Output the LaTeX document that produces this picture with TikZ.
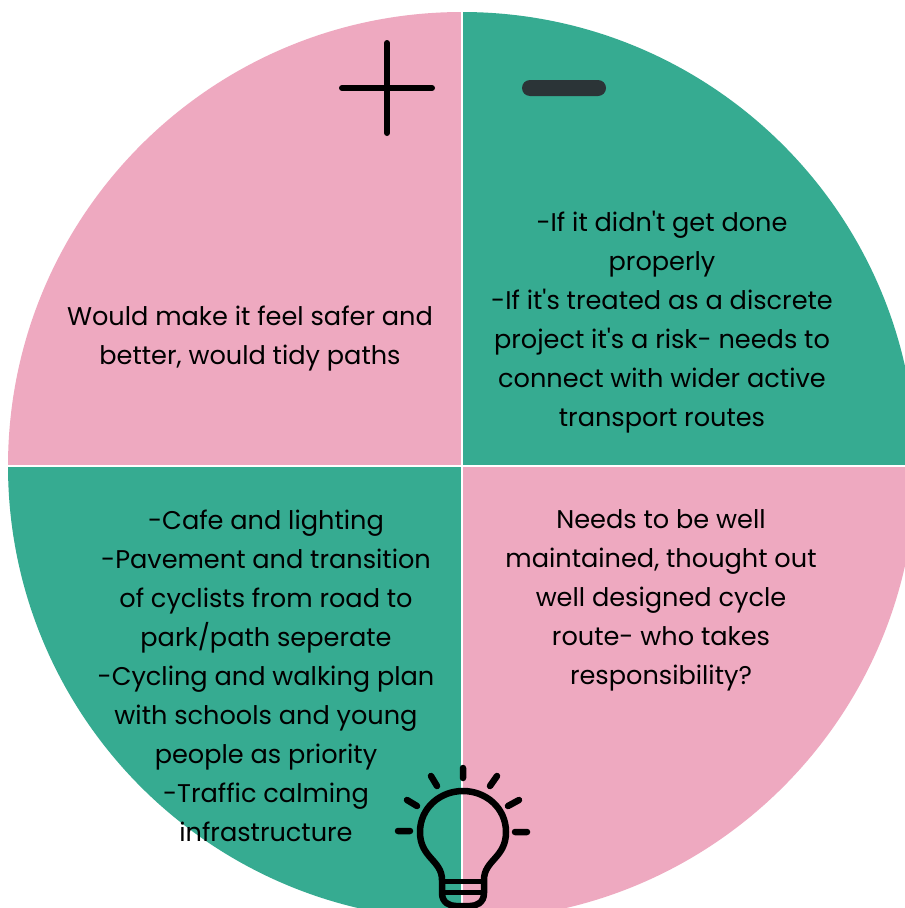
\documentclass[tikz,border=0pt]{standalone}
\usepackage{fontspec}
\setmainfont[Ligatures=TeXOff]{Poppins}
\definecolor{pinkq}{HTML}{EEA9C0}
\definecolor{greenq}{HTML}{36AB91}
\definecolor{dashc}{HTML}{2B3437}
\tikzset{
 lab/.style={align=center,font=\fontsize{25.6pt}{39pt}\selectfont,text=black,inner sep=0pt},
 bulb/.style={draw=black,line width=6.5pt,line cap=round,line join=round},
}
\begin{document}
\begin{tikzpicture}[x=1pt,y=-1pt]
\useasboundingbox (0,0) rectangle (905,908);
\fill[white] (0,0) rectangle (905,908);
\begin{scope}
\clip (0,0) rectangle (905,908);
\fill[pinkq] (462,466) -- (8,466) arc[start angle=180,end angle=90,x radius=454,y radius=-454] -- cycle;
\fill[greenq] (462,466) -- (462,12) arc[start angle=90,end angle=0,x radius=454,y radius=-454] -- cycle;
\fill[greenq] (462,466) -- (8,466) arc[start angle=180,end angle=270,x radius=454,y radius=-454] -- cycle;
\fill[pinkq] (462,466) -- (916,466) arc[start angle=0,end angle=-90,x radius=454,y radius=-454] -- cycle;
\draw[white,line width=1.5pt] (462,12) -- (462,920) (8,466) -- (916,466);
\end{scope}
\draw[black,line width=6pt,line cap=round] (342,88) -- (432,88) (387,43) -- (387,133);
\fill[dashc,rounded corners=8pt] (522,80) rectangle (606,96);
\node[lab] (a) at (250,339) {Would make it feel safer and\\better, would tidy paths};
\node[lab] (b) at (662,322) {-If it didn't get done\\properly\\-If it's treated as a discrete\\project it's a risk- needs to\\connect with wider active\\transport routes};
\node[lab] (c) at (266,675.5) {-Cafe and lighting\\-Pavement and transition\\of cyclists from road to\\park/path seperate\\-Cycling and walking plan\\with schools and young\\people as priority\\-Traffic calming\\infrastructure};
\node[lab] (d) at (661,600) {Needs to be well\\maintained, thought out\\well designed cycle\\route- who takes\\responsibility?};
\begin{scope}
\clip (0,0) rectangle (905,908);
\draw[bulb] (442,880) .. controls (442,860) and (420,858) .. (420,832) .. controls (420,808) and (440,791) .. (463,791) .. controls (486,791) and (506,808) .. (506,832) .. controls (506,858) and (484,860) .. (484,880) -- (484,893) .. controls (484,903) and (476,906) .. (470,906) -- (456,906) .. controls (450,906) and (442,903) .. (442,893) -- cycle;
\draw[bulb,line width=5pt,line cap=butt] (442,881) -- (484,881) (442,892) -- (484,892);
\draw[bulb,line width=6.5pt] (463,768) -- (463,778) (431,776) -- (437,786) (497,776) -- (490,786) (407,800) -- (417,806) (519,800) -- (508,806) (398,831) -- (410,831) (515,832) -- (527,832);
\end{scope}
\end{tikzpicture}
\end{document}
